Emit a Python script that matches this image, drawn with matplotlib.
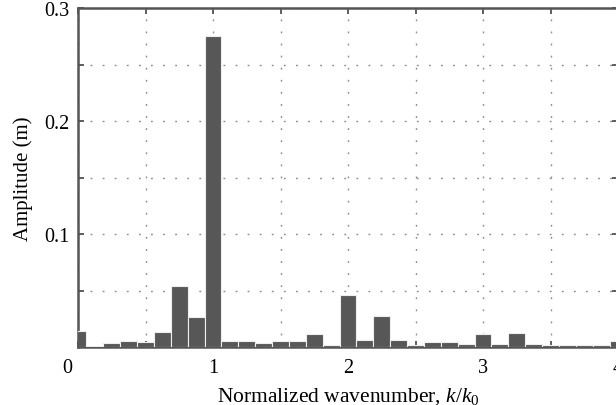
import numpy as np
import matplotlib
matplotlib.use('Agg')
import matplotlib.pyplot as plt
import matplotlib.transforms as mtransforms

# data (bins of 0.125 k/k0)
k_norm = [0.0, 0.125, 0.25, 0.375, 0.5, 0.625, 0.75, 0.875,
          1.0, 1.125, 1.25, 1.375, 1.5, 1.625, 1.75, 1.875,
          2.0, 2.125, 2.25, 2.375, 2.5, 2.625, 2.75, 2.875,
          3.0, 3.125, 3.25, 3.375, 3.5, 3.625, 3.75, 3.875, 4.0]
amplitude = [0.0139, 0.0012, 0.0035, 0.0053, 0.0044, 0.0136, 0.0537, 0.0263,
             0.2750, 0.0050, 0.0053, 0.0035, 0.0056, 0.0050, 0.0115, 0.0018,
             0.0460, 0.0059, 0.0272, 0.0065, 0.0018, 0.0044, 0.0044, 0.0030,
             0.0118, 0.0024, 0.0120, 0.0024, 0.0018, 0.0018, 0.0018, 0.0018, 0.0050]

x_ticks = [0, 0.5, 1, 1.5, 2, 2.5, 3, 3.5, 4]
x_ticklabels = ['0', '', '1', '', '2', '', '3', '', '4']
y_ticks = [0.05, 0.1, 0.15, 0.2, 0.25, 0.3]
y_ticklabels = ['', '0.1', '', '0.2', '', '0.3']

plt.rcParams['font.family'] = ['Liberation Serif', 'DejaVu Serif']
plt.rcParams['mathtext.fontset'] = 'custom'
plt.rcParams['mathtext.rm'] = 'Liberation Serif'
plt.rcParams['mathtext.it'] = 'Liberation Serif:italic'

fig = plt.figure(figsize=(6.16, 4.06), dpi=100)
# axes box runs slightly past the right edge, as in the cropped original
ax = fig.add_axes([78 / 616, 58 / 406, 540 / 616, 339 / 406])

ax.bar(k_norm, amplitude, width=0.125, color='#575757',
       edgecolor='#eeeeee', linewidth=0.8, zorder=3)

ax.set_xlim(0, 4)
ax.set_ylim(0, 0.3)
ax.set_xticks(x_ticks)
ax.set_xticklabels(x_ticklabels)
ax.set_yticks(y_ticks)
ax.set_yticklabels(y_ticklabels)

ax.grid(True, color='#8a8a8a', linestyle=(0, (1.3, 7.4)), linewidth=1.0, zorder=1)
ax.tick_params(direction='in', length=4, width=1.2, color='#444444',
               labelsize=14.5, top=True, right=True, pad=6)
ax.tick_params(axis='x', pad=8)

for s in ax.spines.values():
    s.set_color('#555555')
    s.set_linewidth(1.8)

# the "0" label sits a little to the left in the original
lab0 = ax.get_xticklabels()[0]
lab0.set_transform(lab0.get_transform() +
                   mtransforms.ScaledTranslation(-11 / 100, 0, fig.dpi_scale_trans))

ax.set_xlabel('Normalized wavenumber, $k/k_0$', fontsize=15.5, labelpad=6)
ax.set_ylabel('Amplitude (m)', fontsize=15, labelpad=8)

plt.savefig('out.png', dpi=100)
